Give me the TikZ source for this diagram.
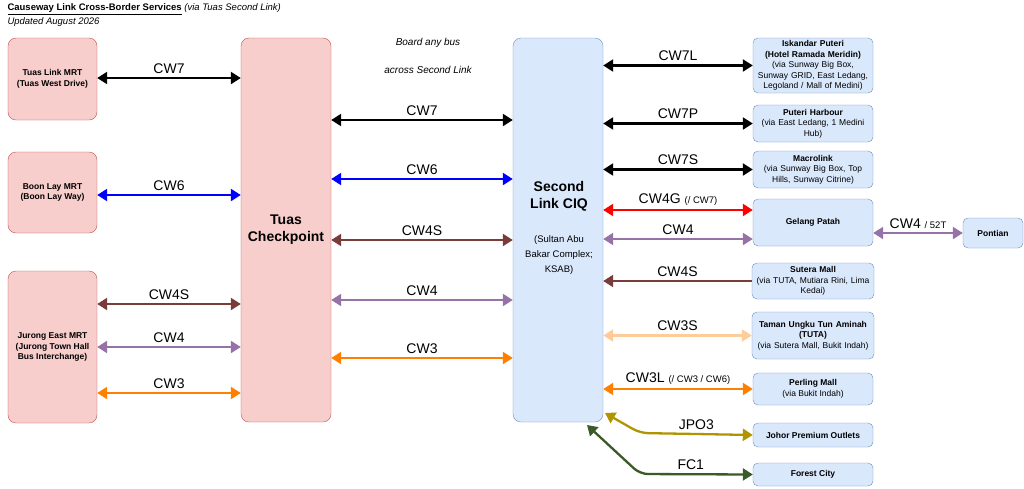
\documentclass[tikz,border=0pt]{standalone}
\usepackage{fontspec}
\setmainfont{Liberation Sans}
\usetikzlibrary{arrows.meta,calc}
\definecolor{pinkf}{HTML}{F8CECC}\definecolor{pinkd}{HTML}{B85450}
\definecolor{bluef}{HTML}{DAE8FC}\definecolor{blued}{HTML}{6C8EBF}
\definecolor{cbrown}{HTML}{7A3B3B}\definecolor{cpurple}{HTML}{9673A6}
\definecolor{corange}{HTML}{FF8000}\definecolor{cpeach}{HTML}{FFCC99}
\definecolor{colive}{HTML}{B09500}\definecolor{cgreen}{HTML}{3A5A2A}
\tikzset{
  pinkbox/.style={draw=pinkd,fill=pinkf,rounded corners=8pt,inner sep=1pt,align=center,font=\fontsize{8.5}{10.5}\selectfont\bfseries},
  bluebox/.style={draw=blued,fill=bluef,rounded corners=5pt,inner sep=1pt,align=center,font=\fontsize{8.5}{10.5}\selectfont},
  route/.style={line width=2.3pt,{Triangle[length=10pt,width=12pt]}-{Triangle[length=10pt,width=12pt]}},
  lbl/.style={text=black,font=\fontsize{14}{16}\selectfont}
}
\begin{document}
\begin{tikzpicture}[x=1pt,y=-1pt]
\useasboundingbox (0,0) rectangle (1024,488);
% title
\node[anchor=west,font=\fontsize{9.5}{11}\selectfont] (title) at (4,9) {\underline{\textbf{Causeway Link Cross-Border Services}} \textit{(via Tuas Second Link)}};
\node[anchor=west,font=\fontsize{9.5}{11}\selectfont\itshape] (upd) at (4,22) {Updated August 2026};
% Singapore side
\node[pinkbox,minimum width=89,minimum height=82] (tlm) at (52.5,79) {Tuas Link MRT\\(Tuas West Drive)};
\node[pinkbox,minimum width=89,minimum height=81] (blm) at (52.5,192.5) {Boon Lay MRT\\(Boon Lay Way)};
\node[pinkbox,minimum width=89,minimum height=152] (jem) at (52.5,347) {Jurong East MRT\\(Jurong Town Hall\\Bus Interchange)};
\node[pinkbox,minimum width=90,minimum height=384,font=\fontsize{14}{17}\selectfont\bfseries] (tc) at (286,230) {Tuas\\Checkpoint};
\node[bluebox,minimum width=90,minimum height=384,rounded corners=8pt] (cq) at (558,230) {};
\node[font=\fontsize{14}{17}\selectfont\bfseries,align=center] (cqt) at (559,196) {Second\\Link CIQ};
\node[font=\fontsize{9.5}{15}\selectfont,align=center] (cqs) at (559,255) {(Sultan Abu\\Bakar Complex;\\KSAB)};
\node[font=\fontsize{10}{11}\selectfont\itshape] (board) at (428,43) {Board any bus};
\node[font=\fontsize{10}{11}\selectfont\itshape] (across) at (428,70) {across Second Link};
% Malaysia side
\node[bluebox,minimum width=120,minimum height=55,text width=118] (isk) at (813,65.5) {\textbf{Iskandar Puteri}\\\textbf{(Hotel Ramada Meridin)}\\(via Sunway Big Box,\\Sunway GRID, East Ledang,\\Legoland / Mall of Medini)};
\node[bluebox,minimum width=120,minimum height=37,text width=118] (ph) at (813,123.5) {\textbf{Puteri Harbour}\\(via East Ledang, 1 Medini\\Hub)};
\node[bluebox,minimum width=120,minimum height=37,text width=118] (mac) at (813,169.5) {\textbf{Macrolink}\\(via Sunway Big Box, Top\\Hills, Sunway Citrine)};
\node[bluebox,minimum width=120,minimum height=47] (gp) at (813,222.5) {\textbf{Gelang Patah}};
\node[bluebox,minimum width=60,minimum height=30] (pon) at (993,233) {\textbf{Pontian}};
\node[bluebox,minimum width=120,minimum height=36,text width=120] (sut) at (813,281) {\textbf{Sutera Mall}\\(via TUTA, Mutiara Rini, Lima\\Kedai)};
\node[bluebox,minimum width=120,minimum height=47,text width=120] (tuta) at (813,335.5) {\textbf{Taman Ungku Tun Aminah}\\\textbf{(TUTA)}\\(via Sutera Mall, Bukit Indah)};
\node[bluebox,minimum width=120,minimum height=32] (per) at (813,389) {\textbf{Perling Mall}\\(via Bukit Indah)};
\node[bluebox,minimum width=120,minimum height=24] (jpo) at (813,435) {\textbf{Johor Premium Outlets}};
\node[bluebox,minimum width=120,minimum height=23] (fc) at (813,474.5) {\textbf{Forest City}};
% MRT to checkpoint
\draw[route,black] (tlm.east|-0,78) -- (tc.west|-0,78) node[midway,above,lbl] {CW7};
\draw[route,blue] (blm.east|-0,195) -- (tc.west|-0,195) node[midway,above,lbl] {CW6};
\draw[route,cbrown] (jem.east|-0,304) -- (tc.west|-0,304) node[midway,above,lbl] {CW4S};
\draw[route,cpurple] (jem.east|-0,347) -- (tc.west|-0,347) node[midway,above,lbl] {CW4};
\draw[route,corange] (jem.east|-0,393) -- (tc.west|-0,393) node[midway,above,lbl] {CW3};
% across Second Link
\draw[route,black] (tc.east|-0,120) -- (cq.west|-0,120) node[midway,above,lbl] {CW7};
\draw[route,blue] (tc.east|-0,179) -- (cq.west|-0,179) node[midway,above,lbl] {CW6};
\draw[route,cbrown] (tc.east|-0,240) -- (cq.west|-0,240) node[midway,above,lbl] {CW4S};
\draw[route,cpurple] (tc.east|-0,300) -- (cq.west|-0,300) node[midway,above,lbl] {CW4};
\draw[route,corange] (tc.east|-0,358) -- (cq.west|-0,358) node[midway,above,lbl] {CW3};
% CIQ to destinations
\draw[route,black] (cq.east|-isk.west) -- (isk.west) node[midway,above,lbl] {CW7L};
\draw[route,black] (cq.east|-ph.west) -- (ph.west) node[midway,above,lbl] {CW7P};
\draw[route,black] (cq.east|-mac.west) -- (mac.west) node[midway,above,lbl] {CW7S};
\draw[route,red] (cq.east|-0,210) -- (gp.west|-0,210) node[midway,above,lbl] {CW4G {\fontsize{9.5}{11}\selectfont(/ CW7)}};
\draw[route,cpurple] (cq.east|-0,239) -- (gp.west|-0,239) node[midway,above,lbl] {CW4};
\draw[route,cpurple] (gp.east|-pon.west) -- (pon.west) node[midway,above,lbl] {CW4 {\fontsize{9.5}{11}\selectfont/ 52T}};
\draw[line width=2.3pt,cbrown,-{Triangle[length=10pt,width=12pt]}] (sut.west) -- (cq.east|-sut.west) node[midway,above,lbl] {CW4S};
\draw[route,cpeach] (cq.east|-tuta.west) -- (tuta.west) node[midway,above,lbl] {CW3S};
\draw[route,corange] (cq.east|-per.west) -- (per.west) node[midway,above,lbl] {CW3L {\fontsize{9.5}{11}\selectfont(/ CW3 / CW6)}};
\coordinate (jbend) at (640,433);
\coordinate (fbend) at (640,474);
\draw[route,colive,rounded corners=8pt] (605,413) -- (jbend) -- (jpo.west) node[pos=0.5,above,lbl] {JPO3};
\draw[route,cgreen,rounded corners=8pt] (587,425) -- (fbend) -- (fc.west) node[pos=0.45,above,lbl] {FC1};
\end{tikzpicture}
\end{document}
